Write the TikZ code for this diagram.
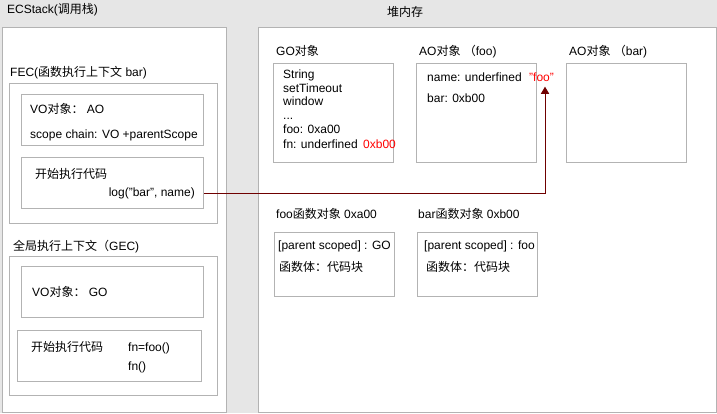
\documentclass[tikz,border=0pt]{standalone}
\usepackage{fontspec}
\setmainfont{Liberation Sans}
\newfontfamily\cjk{Noto Sans CJK SC}
\usetikzlibrary{positioning}
\usetikzlibrary{arrows.meta}

\definecolor{bggray}{HTML}{E6E6E6}
\definecolor{edgegray}{HTML}{B3B3B3}
\definecolor{linkred}{HTML}{6F0000}

\newcommand{\zh}[1]{{\cjk #1}}

\begin{document}
\begin{tikzpicture}[%
  x=1pt, y=-1pt,
  >={Triangle[scale=1.3]},
  panel/.style={draw=edgegray, fill=white, line width=1pt,
    anchor=north west, inner sep=0pt},
  txt/.style={anchor=west, inner sep=0pt, text height=8.5pt, text depth=2.5pt,
    font=\fontsize{12}{13}\selectfont},
  hot/.style={txt, text=red},
]

  \fill[bggray] (0,0) rectangle (717,413);
  \useasboundingbox (0,0) rectangle (717,413);

  % call stack
  \node[panel, minimum width=224, minimum height=385] (ecstack) at (2,27) {};
  \node[txt] (ecstacklbl) at (7,10) {ECStack(\zh{调用栈})};

  \node[panel, minimum width=208, minimum height=140] (fec) at (9,83) {};
  \node[txt] (feclbl) at (10,73) {FEC(\zh{函数执行上下文} bar)};
  \node[panel, minimum width=182, minimum height=51] (fecvo) at (21,94) {};
  \node[txt] (fecvotxt) at (30,110) {VO\zh{对象：} AO};
  \node[txt] (fecscope) at (30,135) {scope chain: VO +parentScope};
  \node[panel, minimum width=182, minimum height=51] (fecrun) at (21,157) {};
  \node[txt] (fecruntxt) at (35,175) {\zh{开始执行代码}};
  \node[txt, anchor=east] (logline) at (195,193) {log("bar", name)};

  \node[panel, minimum width=208, minimum height=139] (gec) at (9,256) {};
  \node[txt] (geclbl) at (13,247) {\zh{全局执行上下文（}GEC)};
  \node[panel, minimum width=182, minimum height=51] (gecvo) at (21,266) {};
  \node[txt] (gecvotxt) at (32,293) {VO\zh{对象：} GO};
  \node[panel, minimum width=184, minimum height=51] (gecrun) at (17,330) {};
  \node[txt] (gecruntxt) at (31,348) {\zh{开始执行代码}};
  \node[txt] (fnassign) at (128,348) {fn=foo()};
  \node[txt] (fncall) at (128,367) {fn()};

  % heap
  \node[panel, minimum width=458, minimum height=385] (heap) at (258,27) {};
  \node[txt, anchor=center] (heaplbl) at (405,13) {\zh{堆内存}};

  \node[panel, minimum width=120, minimum height=99] (go) at (273,63) {};
  \node[txt] (golbl) at (276,52) {GO\zh{对象}};
  \node[txt] (gostring) at (283,75) {String};
  \node[txt] (gotimer) at (283,89) {setTimeout};
  \node[txt] (gowindow) at (283,102) {window};
  \node[txt] (godots) at (283,116) {...};
  \node[txt] (gofoo) at (283,130) {foo: 0xa00};
  \node[txt] (gofn) at (283,145) {fn: underfined};
  \node[hot] (gofnval) at (363,145) {0xb00};

  \node[panel, minimum width=120, minimum height=99] (aofoo) at (416,63) {};
  \node[txt] (aofoolbl) at (419,52) {AO\zh{对象} \zh{（}foo)};
  \node[txt] (aoname) at (427,78) {name: underfined};
  \node[hot] (aonameval) at (529,78) {"foo"};
  \node[txt] (aobar) at (427,99) {bar: 0xb00};

  \node[panel, minimum width=120, minimum height=99] (aobarbox) at (566,63) {};
  \node[txt] (aobarlbl) at (569,52) {AO\zh{对象} \zh{（}bar)};

  \node[panel, minimum width=120, minimum height=64] (foofn) at (274,232) {};
  \node[txt] (foofnlbl) at (276,215) {foo\zh{函数对象} 0xa00};
  \node[txt] (foofnscope) at (278,246) {[parent scoped] : GO};
  \node[txt] (foofnbody) at (279,268) {\zh{函数体：代码块}};

  \node[panel, minimum width=120, minimum height=64] (barfn) at (417,232) {};
  \node[txt] (barfnlbl) at (418,215) {bar\zh{函数对象} 0xb00};
  \node[txt] (barfnscope) at (424,246) {[parent scoped] : foo};
  \node[txt] (barfnbody) at (426,268) {\zh{函数体：代码块}};

  % lookup of name
  \coordinate (hit) at ([yshift=-3]aonameval.south -| 545,0);
  \draw[->, linkred, line width=1pt] (fecrun.east |- logline) -| (hit);

\end{tikzpicture}
\end{document}
